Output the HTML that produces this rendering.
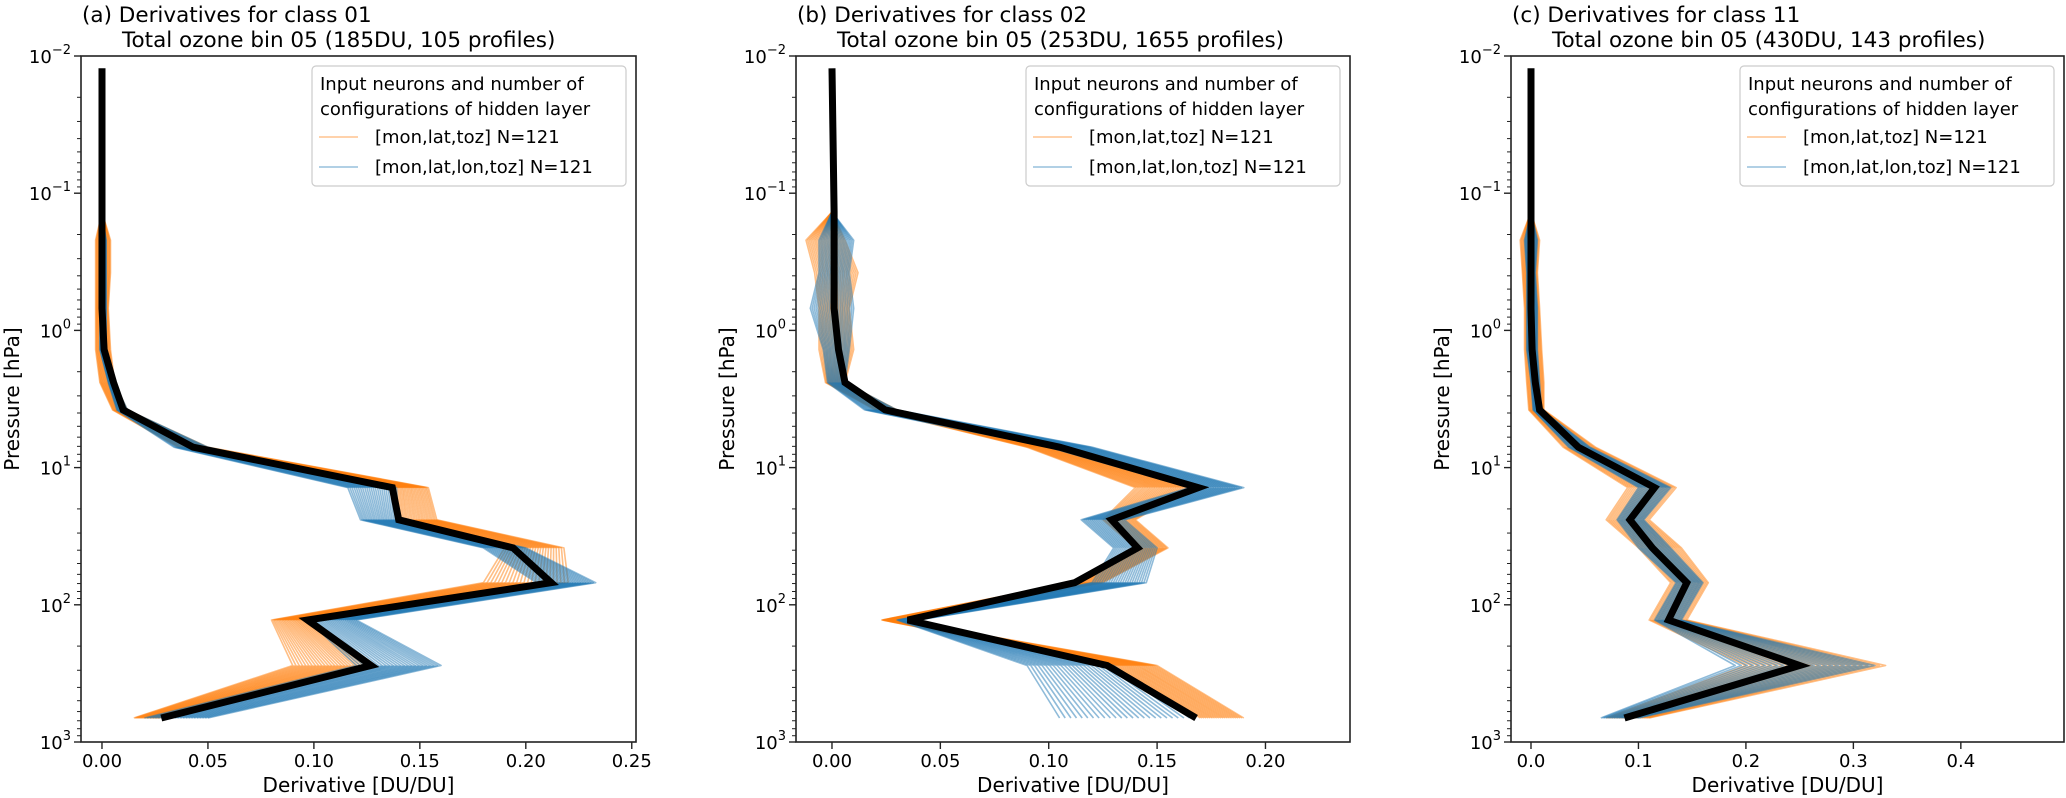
<!DOCTYPE html>
<html><head><meta charset="utf-8"><style>
html,body{margin:0;padding:0;background:#fff;}
svg{display:block;font-family:"DejaVu Sans","Liberation Sans",sans-serif;}
</style></head><body>
<svg id="fig" width="2066" height="798" viewBox="0 0 2066 798" xmlns="http://www.w3.org/2000/svg"></svg>
<script>
// Pressure levels (hPa)
const levels = [0.0123,0.137,0.22,0.38,0.69,1.38,2.4,3.8,7.1,14,24,38.5,69,129,277,668];
// Panel titles
const titlesA = ["(a) Derivatives for class 01","Total ozone bin 05 (185DU, 105 profiles)"];
const titlesB = ["(b) Derivatives for class 02","Total ozone bin 05 (253DU, 1655 profiles)"];
const titlesC = ["(c) Derivatives for class 11","Total ozone bin 05 (430DU, 143 profiles)"];
// X tick values / labels
const ticksA = [0,0.05,0.10,0.15,0.20,0.25];
const tickLabelsA = ["0.00","0.05","0.10","0.15","0.20","0.25"];
const ticksB = [0,0.05,0.10,0.15,0.20];
const tickLabelsB = ["0.00","0.05","0.10","0.15","0.20"];
const ticksC = [0,0.1,0.2,0.3,0.4];
const tickLabelsC = ["0.0","0.1","0.2","0.3","0.4"];
const yTickExps = [-2,-1,0,1,2,3];
// Mean derivative profiles (black)
const meanA = [0,0,0,0,0,0.001,0.0055,0.010,0.043,0.137,0.140,0.194,0.212,0.097,0.127,0.028];
const meanB = [0,0.001,0.001,0.001,0.001,0.003,0.006,0.0245,0.105,0.169,0.129,0.141,0.112,0.035,0.127,0.168];
const meanC = [0,0,0,0,0,0.001,0.004,0.008,0.044,0.115,0.092,0.113,0.145,0.128,0.25,0.087];
// Ensemble envelopes (levels 1..15): orange = [mon,lat,toz], blue = [mon,lat,lon,toz]
const orangeLoA = [0,-0.003,-0.003,-0.003,-0.003,-0.001,0.005,0.036,0.139,0.14,0.19,0.18,0.08,0.09,0.015];
const orangeHiA = [0,0.004,0.004,0.003,0.004,0.006,0.012,0.05,0.154,0.158,0.218,0.22,0.097,0.125,0.027];
const blueLoA = [0,-0.001,-0.001,-0.001,-0.001,0.003,0.007,0.034,0.116,0.122,0.18,0.205,0.097,0.12,0.02];
const blueHiA = [0,0.002,0.002,0.002,0.002,0.006,0.012,0.05,0.139,0.14,0.20,0.233,0.12,0.16,0.05];
const orangeLoB = [0,-0.012,-0.008,-0.006,-0.006,-0.003,0.02,0.09,0.14,0.125,0.14,0.11,0.023,0.13,0.17];
const orangeHiB = [0,0.006,0.012,0.008,0.01,0.006,0.03,0.105,0.165,0.14,0.155,0.125,0.03,0.15,0.19];
const blueLoB = [0,-0.006,-0.006,-0.01,-0.004,-0.002,0.015,0.1,0.165,0.115,0.13,0.12,0.03,0.09,0.105];
const blueHiB = [0,0.010,0.008,0.01,0.008,0.006,0.03,0.12,0.19,0.135,0.15,0.145,0.04,0.13,0.165];
const orangeLoC = [0,-0.01,-0.008,-0.006,-0.006,-0.004,-0.002,0.03,0.09,0.07,0.1,0.13,0.11,0.2,0.07];
const orangeHiC = [0,0.008,0.006,0.008,0.01,0.012,0.012,0.06,0.135,0.11,0.14,0.165,0.145,0.33,0.11];
const blueLoC = [0,-0.006,-0.004,-0.004,-0.004,0,0.002,0.035,0.1,0.08,0.1,0.135,0.115,0.19,0.065];
const blueHiC = [0,0.006,0.004,0.006,0.006,0.008,0.01,0.055,0.13,0.105,0.13,0.16,0.14,0.32,0.1];
const legendTitle = ["Input neurons and number of","configurations of hidden layer"];
const legendLabels = ["[mon,lat,toz] N=121","[mon,lat,lon,toz] N=121"];

const NS="http://www.w3.org/2000/svg";
const fig=document.getElementById('fig');
function mk(tag,attrs,parent){const e=document.createElementNS(NS,tag);for(const k in attrs)e.setAttribute(k,attrs[k]);(parent||fig).appendChild(e);return e;}

const panels=[
 {id:'a',left:81,right:636,xmin:-0.0099,xmax:0.252,ticks:ticksA,labels:tickLabelsA,titles:titlesA,mean:meanA,oLo:orangeLoA,oHi:orangeHiA,bLo:blueLoA,bHi:blueHiA},
 {id:'b',left:796,right:1350,xmin:-0.0166,xmax:0.239,ticks:ticksB,labels:tickLabelsB,titles:titlesB,mean:meanB,oLo:orangeLoB,oHi:orangeHiB,bLo:blueLoB,bHi:blueHiB},
 {id:'c',left:1511,right:2064,xmin:-0.0186,xmax:0.496,ticks:ticksC,labels:tickLabelsC,titles:titlesC,mean:meanC,oLo:orangeLoC,oHi:orangeHiC,bLo:blueLoC,bHi:blueHiC}
];
const TOP=56,BOT=742;
function yScale(p){return TOP+(Math.log10(p)+2)*(BOT-TOP)/5;}

panels.forEach(P=>{
 const xs=v=>P.left+(v-P.xmin)/(P.xmax-P.xmin)*(P.right-P.left);
 const g=mk('g',{});
 
 
 const N=24;
 [['#ff7f0e',P.oLo,P.oHi,'orange'],['#1f77b4',P.bLo,P.bHi,'blue']].forEach(([col,lo,hi,nm])=>{
  const eg=mk('g',{},g);
  
  
  for(let k=0;k<N;k++){
   const f=k/(N-1);
   const pts=lo.map((l,i)=>{const v=l+(hi[i]-l)*f;return xs(v).toFixed(1)+','+yScale(levels[i+1]).toFixed(1);}).join(' ');
   const pl=mk('polyline',{points:pts,fill:'none',stroke:col,'stroke-width':1.6,'stroke-opacity':0.5,'stroke-linejoin':'round'},eg);
   
   
  }
 });
 const mp=P.mean.map((v,i)=>xs(v).toFixed(1)+','+yScale(levels[i]).toFixed(1)).join(' ');
 const ml=mk('polyline',{points:mp,fill:'none',stroke:'#000','stroke-width':7,'stroke-linejoin':'miter'},g);
 
 
 const fr=mk('rect',{x:P.left,y:TOP,width:P.right-P.left,height:BOT-TOP,fill:'none',stroke:'#222','stroke-width':1.6},g);
 
 
 P.ticks.forEach((t,i)=>{
  const x=xs(t);
  mk('line',{x1:x,x2:x,y1:BOT,y2:BOT+7,stroke:'#222','stroke-width':1.4},g);
  const tx=mk('text',{x:x,y:767,'font-size':18,'text-anchor':'middle',fill:'#000'},g);
  tx.textContent=P.labels[i];
  
  
 });
 const xl=mk('text',{x:(P.left+P.right)/2,y:792,'font-size':20,'text-anchor':'middle',fill:'#000'},g);
 xl.textContent='Derivative [DU/DU]';
 
 
 yTickExps.forEach(e=>{
  const y=yScale(Math.pow(10,e));
  mk('line',{x1:P.left-7,x2:P.left,y1:y,y2:y,stroke:'#222','stroke-width':1.4},g);
  const tx=mk('text',{x:P.left-10,y:y+7,'font-size':18,'text-anchor':'end',fill:'#000'},g);
  const s1=mk('tspan',{},tx);s1.textContent='10';
  const s2=mk('tspan',{dy:-9,'font-size':13},tx);s2.textContent=(e<0?'\u2212'+(-e):''+e);
  
  
  if(e<3){for(let m=2;m<=9;m++){const ym=yScale(m*Math.pow(10,e));mk('line',{x1:P.left-4,x2:P.left,y1:ym,y2:ym,stroke:'#222','stroke-width':1},g);}}
 });
 const yl=mk('text',{x:0,y:0,'font-size':20,'text-anchor':'middle',fill:'#000',transform:`translate(${P.left-62},${(TOP+BOT)/2}) rotate(-90)`},g);
 yl.textContent='Pressure [hPa]';
 
 
 const t1=mk('text',{x:P.left+1,y:22,'font-size':21.5,fill:'#000'},g);
 t1.textContent=P.titles[0];
 
 
 const t2=mk('text',{x:P.left+41,y:47,'font-size':21.5,fill:'#000'},g);
 t2.textContent=P.titles[1];
 
 
 const lx=P.right-10-314, ly=66;
 const lg=mk('g',{},g);
 
 
 mk('rect',{x:lx,y:ly,width:314,height:120,rx:4,fill:'#fff','fill-opacity':0.8,stroke:'#ccc','stroke-width':1.2},lg);
 legendTitle.forEach((s,i)=>{const t=mk('text',{x:lx+8,y:ly+24+i*25,'font-size':18,fill:'#000'},lg);t.textContent=s;});
 [['#ff7f0e',0],['#1f77b4',1]].forEach(([c,i])=>{
  const y=ly+71+i*30;
  const le=mk('g',{},lg);
  
  
  mk('line',{x1:lx+7,x2:lx+46,y1:y,y2:y,stroke:c,'stroke-opacity':0.35,'stroke-width':2},le);
  const t=mk('text',{x:lx+63,y:y+6,'font-size':18,fill:'#000'},le);t.textContent=legendLabels[i];
 });
});
</script>
</body></html>
